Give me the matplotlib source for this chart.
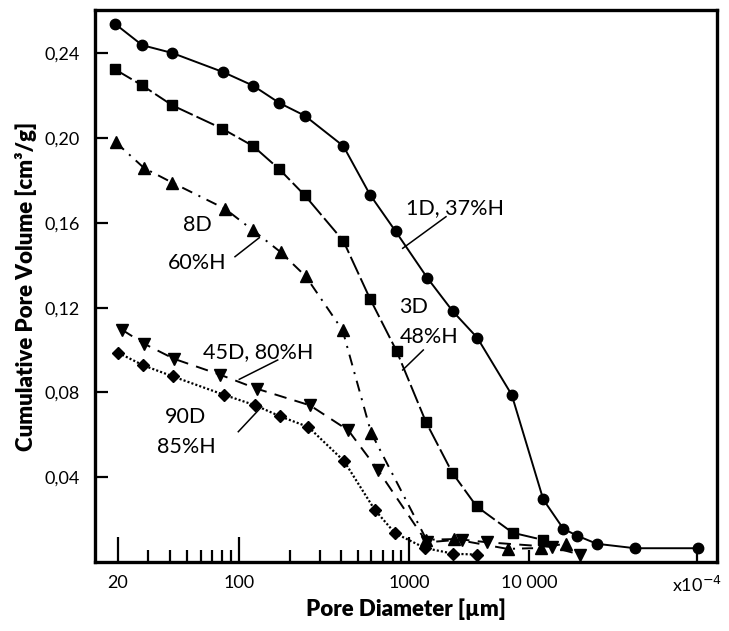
import numpy as np
import matplotlib
matplotlib.use("Agg")
import matplotlib.pyplot as plt
from matplotlib.lines import Line2D

plt.rcParams['font.family'] = ['Lato', 'DejaVu Sans']
plt.rcParams['lines.scale_dashes'] = False

# pore diameter (axis units x10^-4 um) and cumulative volume [cm3/g]
x_1d = [19.2, 27.6, 41.2, 81, 121, 173, 244, 411, 590, 835, 1420, 2310, 3710, 7180,
        12160, 16000, 19230, 25300, 42760, 102000]
y_1d = [0.254, 0.2439, 0.2402, 0.2312, 0.2248, 0.2166, 0.2106, 0.1963, 0.1733, 0.1560,
        0.1341, 0.1184, 0.1058, 0.0789, 0.0295, 0.0157, 0.0125, 0.0086, 0.0065, 0.0065]

x_3d = [19.2, 27.6, 41.2, 80, 121, 173, 244, 411, 590, 846, 1386, 2295, 3664, 7310, 12160]
y_3d = [0.2325, 0.2249, 0.2155, 0.2045, 0.1963, 0.1853, 0.1730, 0.1515, 0.1242, 0.0995,
        0.0660, 0.0421, 0.0262, 0.0138, 0.0104]

x_8d = [19.4, 28.3, 41.2, 83, 121, 176, 247, 407, 598, 1399, 2349, 6620, 11710, 16500]
y_8d = [0.1981, 0.1859, 0.1790, 0.1667, 0.1565, 0.1462, 0.1348, 0.1093, 0.0611, 0.0105,
        0.0108, 0.0062, 0.0066, 0.0087]

x_45d = [21, 28.3, 42.1, 77.7, 127, 262, 440, 659, 1404, 2765, 4508, 13650, 20120]
y_45d = [0.1097, 0.1030, 0.0959, 0.0884, 0.0818, 0.0739, 0.0621, 0.0432, 0.0093, 0.0106,
         0.0093, 0.0071, 0.0035]

x_90d = [20.1, 28, 41.4, 81.9, 125, 175, 256, 415, 628, 827, 1359, 2339, 3664]
y_90d = [0.0987, 0.0928, 0.0876, 0.0789, 0.0739, 0.0687, 0.0637, 0.0476, 0.0247, 0.0136,
         0.0066, 0.0039, 0.0035]

y_ticks = [0.04, 0.08, 0.12, 0.16, 0.20, 0.24]
y_tick_labels = ['0,04', '0,08', '0,12', '0,16', '0,20', '0,24']
x_major = [20, 100, 1000]
x_major_labels = ['20', '100', '1000']
x_minor = [30, 40, 50, 60, 70, 80, 90, 200, 300, 400, 500, 600, 700, 800, 900, 10000, 100000]
x_minor_labels = [''] * 15 + ['10 000', 'x10$^{-4}$']

# the original axis is log but the 1000-10000 decade is squeezed
logk = np.array([-3.0, 1.30103, 2.0, 3.0, 4.0, 5.0, 9.0])
posk = np.array([118 - 4.30103 * 173.1, 118, 239, 409, 529, 697, 697 + 4 * 168])


def fwd(x):
    x = np.clip(np.asarray(x, dtype=float), 1e-3, 1e9)
    return np.interp(np.log10(x), logk, posk)


def inv(p):
    return 10 ** np.interp(np.asarray(p, dtype=float), posk, logk)


fig = plt.figure(figsize=(7.29, 6.31), dpi=100)
ax = fig.add_axes([95 / 729, 1 - 562 / 631, (717 - 95) / 729, (562 - 10) / 631])
ax.set_xscale('function', functions=(fwd, inv))

ax.plot(x_1d, y_1d, color='black', lw=1.4, marker='o', ms=7.5)
ax.plot(x_3d, y_3d, color='black', lw=1.4, marker='s', ms=7.5, dashes=(14, 3))
ax.plot(x_8d, y_8d, color='black', lw=1.4, marker='^', ms=9, dashes=(8, 5, 1.5, 5))
ax.plot(x_45d, y_45d, color='black', lw=1.4, marker='v', ms=9, dashes=(9, 6))
ax.plot(x_90d, y_90d, color='black', lw=1.6, marker='D', ms=6.5, dashes=(1.5, 1.5))

ax.set_xlim(inv(95), inv(717))
ax.set_ylim(0, 0.2605)

ax.set_xticks(x_major, labels=x_major_labels)
ax.set_xticks(x_minor, labels=x_minor_labels, minor=True)
ax.set_yticks(y_ticks, labels=y_tick_labels)
ax.tick_params(axis='x', which='major', direction='in', length=18, width=1.6,
               labelsize=13, pad=9)
ax.tick_params(axis='x', which='minor', direction='in', length=9, width=1.6,
               labelsize=13, pad=9)
ax.tick_params(axis='y', which='major', direction='in', length=9, width=1.6,
               labelsize=13, pad=11)
ax.tick_params(top=False, right=False)
for s in ax.spines.values():
    s.set_linewidth(2.4)

ax.set_xlabel('Pore Diameter [µm]', fontsize=16, fontweight='heavy', labelpad=3)
ax.set_ylabel('Cumulative Pore Volume [cm³/g]', fontsize=16, fontweight='heavy',
              labelpad=5)


def px_text(px, py, s):
    fig.text(px / 729, 1 - py / 631, s, fontsize=15.5, ha='center', va='center')


def px_line(x0, y0, x1, y1):
    fig.add_artist(Line2D([x0 / 729, x1 / 729], [1 - y0 / 631, 1 - y1 / 631],
                          color='black', lw=1.1))


px_text(455, 208, '1D, 37%H')
px_line(446, 216.7, 402.7, 248.3)
px_text(414, 307, '3D')
px_text(429, 337, '48%H')
px_line(423.3, 350, 402.7, 370)
px_text(197, 225, '8D')
px_text(197, 263, '60%H')
px_line(235, 256.7, 259.3, 237.7)
px_text(258, 352, '45D, 80%H')
px_line(277.7, 360, 239.3, 379.3)
px_text(185, 417, '90D')
px_text(186, 447, '85%H')
px_line(238.3, 431.7, 261.7, 406.7)

fig.savefig('out.png', dpi=100)
